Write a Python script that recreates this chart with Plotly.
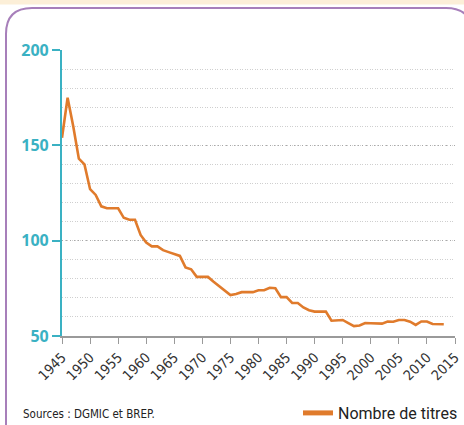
import plotly.graph_objects as go

years = list(range(1945, 2014))
titres = [154, 175, 160, 143, 140, 127, 124, 118, 117, 117,
          117, 112, 111, 111, 103, 99, 97, 97, 95, 94,
          93, 92, 86, 85, 81, 81, 81, 78.5, 76, 74,
          71.5, 72, 73, 73, 73, 74, 74, 75.3, 75, 70.4,
          70.4, 67.3, 67.3, 65, 63.5, 62.8, 62.8, 62.8, 58, 58.2,
          58.4, 56.8, 55.2, 55.5, 56.8, 56.7, 56.7, 56.5, 57.6, 57.5,
          58.4, 58.4, 57.5, 55.8, 57.6, 57.6, 56.3, 56.2, 56.2]
x_ticks = list(range(1945, 2016, 5))
y_ticks = [50, 100, 150, 200]
series_name = "Nombre de titres"
source_text = "Sources : DGMIC et BREP."

W, H = 464, 425
L, R, T, B = 62, 455, 50, 336
ORANGE = "#e07b2c"
TEAL = "#3ab1c3"
PURPLE = "#a77fba"
NARROW = "DejaVu Sans Condensed, Liberation Sans Narrow, Roboto, sans-serif"


def px(x):
    return (x - L) / (R - L)


def py(y):
    return (B - y) / (B - T)


fig = go.Figure()
fig.add_trace(go.Scatter(x=years, y=titres, mode="lines",
                         line=dict(color=ORANGE, width=2.6),
                         showlegend=False, hoverinfo="x+y"))
fig.add_trace(go.Scatter(x=[None], y=[None], mode="lines", name=series_name,
                         line=dict(color=ORANGE, width=5), showlegend=True))

# decorative frame
r = 26
x0, y0, x1, y1 = 6, 8, 472, 440
path = (f"M{px(x0)},{py(y1)} L{px(x0)},{py(y0 + r)} "
        f"Q{px(x0)},{py(y0)} {px(x0 + r)},{py(y0)} "
        f"L{px(x1 - r)},{py(y0)} Q{px(x1)},{py(y0)} {px(x1)},{py(y0 + r)} "
        f"L{px(x1)},{py(y1)}")
shapes = [
    dict(type="rect", xref="paper", yref="paper", x0=px(-5), x1=px(470),
         y0=py(4.5), y1=py(-5), fillcolor="#fcefd8", line=dict(width=0), layer="below"),
    dict(type="path", xref="paper", yref="paper", path=path,
         line=dict(color=PURPLE, width=2), layer="below"),
]

fig.update_layout(
    width=W, height=H,
    margin=dict(l=L, r=W - R, t=T, b=H - B, autoexpand=False),
    paper_bgcolor="white", plot_bgcolor="white",
    shapes=shapes,
    showlegend=True,
    legend=dict(orientation="h", x=px(298), xanchor="left", y=py(413), yanchor="middle",
                font=dict(family="Roboto, sans-serif", size=16, color="#222"),
                bgcolor="rgba(0,0,0,0)", itemwidth=30),
    annotations=[dict(text=source_text, xref="paper", yref="paper",
                      x=px(21), y=py(414), xanchor="left", yanchor="middle", showarrow=False,
                      font=dict(family=NARROW, size=11.5, color="#222"))],
    xaxis=dict(range=[1945, 2015], tickvals=x_ticks, ticktext=[str(v) for v in x_ticks],
               tickangle=-45, showgrid=False, zeroline=False, automargin=False,
               showline=True, linecolor="#9a9a9a", linewidth=1.5,
               ticks="outside", ticklen=6, tickcolor="#9a9a9a", tickwidth=1,
               tickfont=dict(family=NARROW, size=14, color="#333")),
    yaxis=dict(range=[50, 200], tickvals=y_ticks, showgrid=True, gridcolor="#a8a8a8",
               griddash="1px,3px", gridwidth=1.3, zeroline=False, automargin=False,
               showline=True, linecolor=TEAL, linewidth=2.2,
               ticks="outside", ticklen=8, tickcolor=TEAL, tickwidth=2,
               tickfont=dict(family="Open Sans, sans-serif", size=16, color=TEAL, weight="bold"),
               minor=dict(dtick=10, showgrid=True, gridcolor="#cfcfcf", griddash="1px,1.5px", gridwidth=1)),
)

fig.write_html("out.html", config={"displayModeBar": False},
               post_script="document.body.style.margin='0';document.body.style.overflow='hidden';")
